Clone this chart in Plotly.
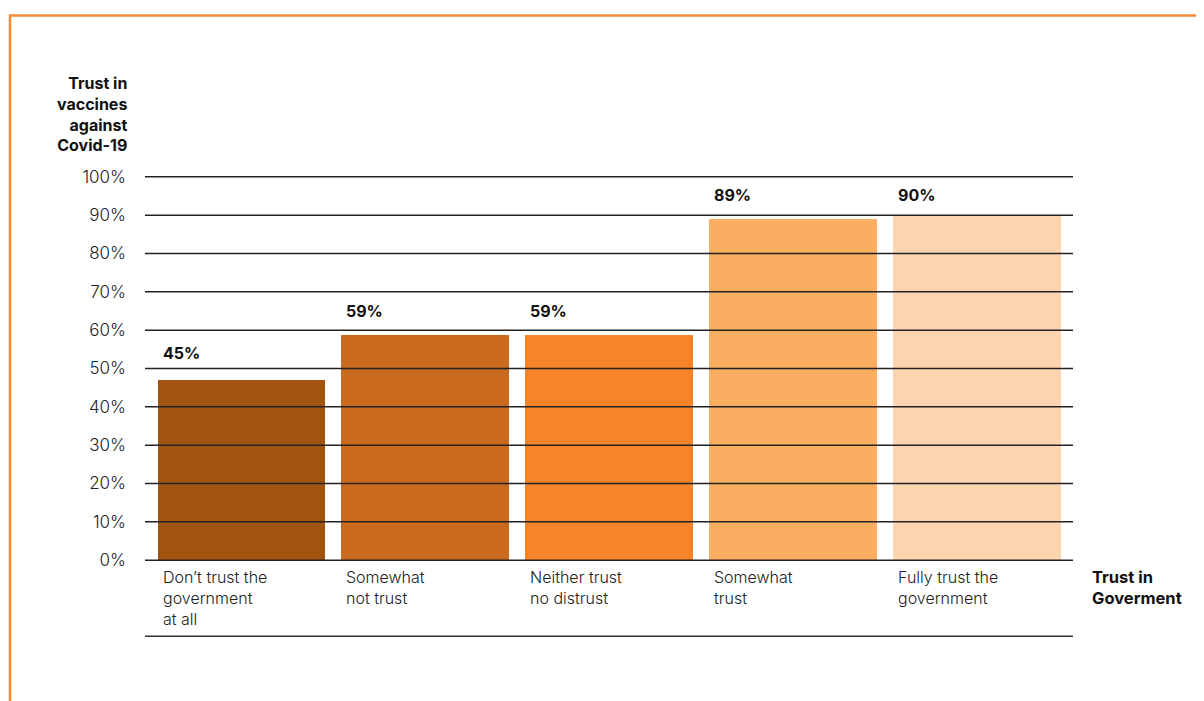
import plotly.graph_objects as go

categories = ["Don’t trust the<br>government<br>at all", "Somewhat<br>not trust",
              "Neither trust<br>no distrust", "Somewhat<br>trust", "Fully trust the<br>government"]
bar_heights = [47, 58.7, 58.7, 89, 90]
value_labels = ["45%", "59%", "59%", "89%", "90%"]
bar_colors = ["#A0540F", "#C96A1E", "#F5842A", "#F9AE62", "#FCD5AF"]
y_ticks = [0, 10, 20, 30, 40, 50, 60, 70, 80, 90, 100]
y_tick_text = [f"{v}%" for v in y_ticks]

FONT = "Inter"
BW = 0.914
xs = list(range(len(categories)))

fig = go.Figure()
fig.add_trace(go.Bar(x=xs, y=bar_heights, width=BW, marker=dict(color=bar_colors, line=dict(width=0)),
                     hoverinfo="skip", showlegend=False))

shapes = []
for v in y_ticks:
    shapes.append(dict(type="line", xref="paper", yref="y", x0=0, x1=1, y0=v, y1=v,
                       line=dict(color="#222222", width=1.5), layer="above"))
# bottom closing line
shapes.append(dict(type="line", xref="paper", yref="paper", x0=0, x1=1, y0=-0.1848, y1=-0.1848,
                   line=dict(color="#333333", width=1.5)))
# orange frame
shapes.append(dict(type="path", xref="paper", yref="paper",
                   path="M -0.1455,-0.40 L -0.1455,1.4025 L 1.2,1.4025",
                   line=dict(color="#F58A36", width=2.5)))

label_shift = [15, 12, 12, 12, 8]
annotations = []
for i, (h, t) in enumerate(zip(bar_heights, value_labels)):
    annotations.append(dict(x=i - BW / 2, y=h, xref="x", yref="y", text=f"<b>{t}</b>",
                            showarrow=False, xanchor="left", yanchor="bottom", xshift=3,
                            yshift=label_shift[i],
                            font=dict(family=FONT, size=16, color="#111111")))
for i, c in enumerate(categories):
    annotations.append(dict(x=i - BW / 2, y=0, xref="x", yref="y", text=c, align="left",
                            showarrow=False, xanchor="left", yanchor="top", xshift=3, yshift=-5,
                            font=dict(family=FONT, size=16, color="#222222", weight=300)))
annotations.append(dict(x=0, y=100, xref="paper", yref="y", xanchor="right", yanchor="bottom",
                        xshift=-16, yshift=20, align="right", showarrow=False,
                        text="<b>Trust in<br>vaccines<br>against<br>Covid-19</b>",
                        font=dict(family=FONT, size=16, color="#111111")))
annotations.append(dict(x=1.0183, y=0, xref="paper", yref="y", xanchor="left", yanchor="top",
                        yshift=-5, align="left", showarrow=False,
                        text="<b>Trust in<br>Goverment</b>",
                        font=dict(family=FONT, size=16.5, color="#111111")))

fig.update_layout(
    width=1204, height=701,
    margin=dict(l=137, r=139, t=165, b=145, pad=0),
    paper_bgcolor="white", plot_bgcolor="white",
    bargap=0,
    xaxis=dict(range=[-0.525, 4.525], showticklabels=False, showgrid=False, zeroline=False,
               showline=False, ticks="", fixedrange=True),
    yaxis=dict(range=[-1, 101], tickvals=y_ticks, ticktext=y_tick_text, showgrid=False,
               zeroline=False, showline=False, ticks="", ticklabelstandoff=18,
               tickfont=dict(family=FONT, size=17, color="#222222", weight=300), fixedrange=True),
    shapes=shapes, annotations=annotations,
    font=dict(family=FONT),
)

fig.write_html("out.html")
